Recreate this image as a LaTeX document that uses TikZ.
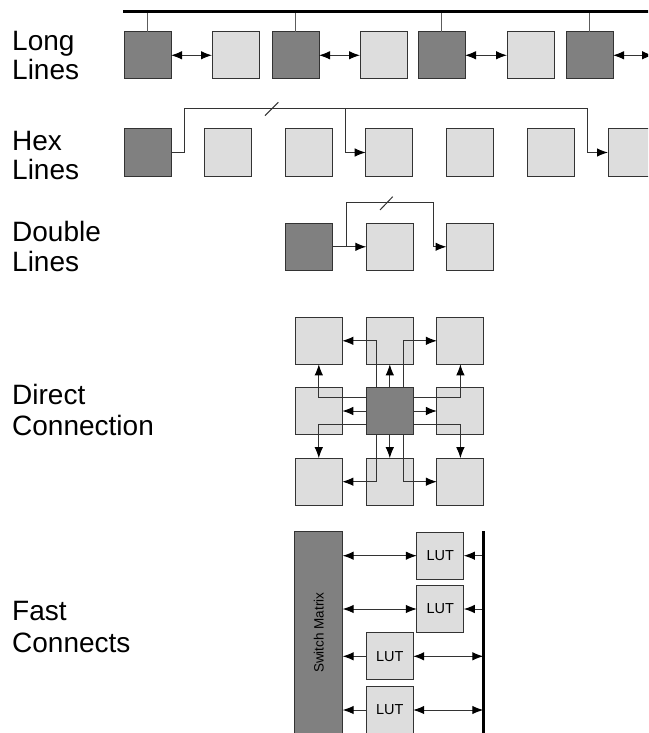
\documentclass[tikz,border=0pt]{standalone}
\usepackage{fontspec}
\setmainfont{Liberation Sans}
\usetikzlibrary{arrows.meta}
\definecolor{dk}{HTML}{808080}
\definecolor{lt}{HTML}{DDDDDD}
\definecolor{edge}{HTML}{333333}
\begin{document}
\begin{tikzpicture}[x=1pt,y=-1pt,
  cell/.style={draw=edge,line width=1pt,minimum width=47pt,minimum height=47pt,inner sep=0pt,outer sep=0pt},
  darkcell/.style={cell,fill=dk},
  lightcell/.style={cell,fill=lt},
  ln/.style={draw=edge,line width=1pt},
  stub/.style={draw=edge!80!white,line width=1pt},
  arr/.style={ln,-{Latex[length=11pt,width=8.5pt,color=black]}},
  darr/.style={ln,{Latex[length=11pt,width=8.5pt,color=black]}-{Latex[length=11pt,width=8.5pt,color=black]}},
  bus/.style={draw=black,line width=3pt},
  lbl/.style={anchor=base west,inner sep=0pt,font=\fontsize{28}{30}\selectfont},
  small/.style={inner sep=0pt,font=\fontsize{13.5}{15}\selectfont},
  luttext/.style={font=\fontsize{14.5}{16}\selectfont}
]
\useasboundingbox (0,0) rectangle (648,733);
\clip (0,0) rectangle (648,733);

% ---------- labels
\node[lbl] (tLong)   at (12,51)  {Long};
\node[lbl] (tLines1) at (12,80)  {Lines};
\node[lbl] (tHex)    at (12,150) {Hex};
\node[lbl] (tLines2) at (12,179) {Lines};
\node[lbl] (tDouble) at (12,241) {Double};
\node[lbl] (tLines3) at (12,271) {Lines};
\node[lbl] (tDirect) at (12,404) {Direct};
\node[lbl] (tConn)   at (12,435) {Connection};
\node[lbl] (tFast)   at (12,620) {Fast};
\node[lbl] (tConns)  at (12,652) {Connects};

% ---------- Long lines
\node[darkcell]  (L1) at (147.5,55.3) {};
\node[lightcell] (L2) at (235.5,55.3) {};
\node[darkcell]  (L3) at (295.5,55.3) {};
\node[lightcell] (L4) at (383.5,55.3) {};
\node[darkcell]  (L5) at (441.5,55.3) {};
\node[lightcell] (L6) at (530.5,55.3) {};
\node[darkcell]  (L7) at (589.5,55.3) {};
\coordinate (busL) at (123,11.7);
\coordinate (busR) at (660,11.7);
\coordinate (L8) at (653,55.3);
\foreach \n in {L1,L3,L5,L7} \draw[stub] (\n.north) -- (\n.north |- busL);
\draw[bus] (busL) -- (busR);
\draw[darr] (L1.east) -- (L2.west);
\draw[darr] (L3.east) -- (L4.west);
\draw[darr] (L5.east) -- (L6.west);
\draw[darr] (L7.east) -- (L8);

% ---------- Hex lines
\node[darkcell]  (H1) at (147.5,152.5) {};
\node[lightcell] (H2) at (227.8,152.5) {};
\node[lightcell] (H3) at (308.5,152.5) {};
\node[lightcell] (H4) at (389.2,152.5) {};
\node[lightcell] (H5) at (470.2,152.5) {};
\node[lightcell] (H6) at (550.5,152.5) {};
\node[lightcell] (H7) at (631.5,152.5) {};
\coordinate (hA) at (184.3,109);
\coordinate (hB) at (345.7,109);
\coordinate (hC) at (587.3,109);
\draw[arr] (H1.east) -| (hA) -- (hC) |- (H7.west);
\draw[arr] (hB) |- (H4.west);
\coordinate (hs1) at (265,115.7);
\coordinate (hs2) at (278.3,102.3);
\draw[ln] (hs1) -- (hs2);

% ---------- Double lines
\node[darkcell]  (D0) at (308.8,246.8) {};
\node[lightcell] (D1) at (389.8,246.8) {};
\node[lightcell] (D2) at (470,246.8) {};
\coordinate (dA) at (346,246.8);
\coordinate (dB) at (346,202.7);
\coordinate (dC) at (433.3,202.7);
\draw[arr] (D0.east) -- (D1.west);
\draw[arr] (dA) -- (dB) -- (dC) |- (D2.west);
\coordinate (ds1) at (380,210);
\coordinate (ds2) at (392.7,196.7);
\draw[ln] (ds1) -- (ds2);

% ---------- Direct connection
\node[lightcell] (NW) at (318.8,340.8) {};
\node[lightcell] (N)  at (389.8,340.8) {};
\node[lightcell] (NE) at (460.4,340.8) {};
\node[lightcell] (W)  at (318.8,411) {};
\node[darkcell]  (C)  at (389.8,411) {};
\node[lightcell] (E)  at (460.4,411) {};
\node[lightcell] (SW) at (318.8,481.7) {};
\node[lightcell] (S)  at (389.8,481.7) {};
\node[lightcell] (SE) at (460.4,481.7) {};
\draw[arr] (C.north) -- (N.south);
\draw[arr] (C.south) -- (S.north);
\draw[arr] (C.west) -- (W.east);
\draw[arr] (C.east) -- (E.west);
\draw[arr] ([xshift=-13.3pt]C.north) |- (NW.east);
\draw[arr] ([xshift=13.3pt]C.north) |- (NE.west);
\draw[arr] ([xshift=-13.3pt]C.south) |- (SW.east);
\draw[arr] ([xshift=13.3pt]C.south) |- (SE.west);
\draw[arr] ([yshift=13.3pt]C.west) -| (NW.south);
\draw[arr] ([yshift=-13.3pt]C.west) -| (SW.north);
\draw[arr] ([yshift=13.3pt]C.east) -| (NE.south);
\draw[arr] ([yshift=-13.3pt]C.east) -| (SE.north);

% ---------- Fast connects
\node[cell,fill=dk,minimum width=47.7pt,minimum height=202pt] (SM) at (318.8,632.7) {};
\node[small,rotate=90] (SMt) at (SM.center) {Switch Matrix};
\node[lightcell,luttext] (LUT1) at (440.3,555.7) {LUT};
\node[lightcell,luttext] (LUT2) at (440.3,609) {LUT};
\node[lightcell,luttext] (LUT3) at (389.7,656.3) {LUT};
\node[lightcell,luttext] (LUT4) at (389.7,710) {LUT};
\coordinate (fbT) at (483.3,531);
\coordinate (fbB) at (483.3,745);
\draw[darr] (SM.east |- LUT1) -- (LUT1.west);
\draw[darr] (SM.east |- LUT2) -- (LUT2.west);
\draw[arr] (LUT1.east -| fbT) -- (LUT1.east);
\draw[arr] (LUT2.east -| fbT) -- (LUT2.east);
\draw[arr] (LUT3.west) -- (SM.east |- LUT3);
\draw[arr] (LUT4.west) -- (SM.east |- LUT4);
\draw[darr] (LUT3.east) -- (LUT3.east -| fbT);
\draw[darr] (LUT4.east) -- (LUT4.east -| fbT);
\draw[bus] (fbT) -- (fbB);
\end{tikzpicture}
\end{document}
